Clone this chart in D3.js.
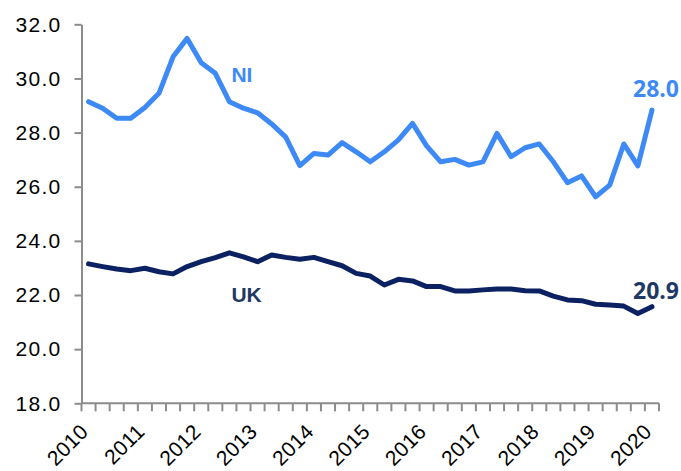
<!DOCTYPE html>
<html><head><meta charset="utf-8">
<script src="https://cdn.jsdelivr.net/npm/d3@7"></script>
<style>body{margin:0;background:#fff}svg{display:block}</style>
</head><body>
<svg id="c" width="681" height="471"></svg>
<script>
const quarters = d3.range(41).map(i => `${2010 + Math.floor(i/4)} Q${i%4+1}`);
const yearLabels = ["2010","2011","2012","2013","2014","2015","2016","2017","2018","2019","2020"];
const yTicks = [18,20,22,24,26,28,30,32];
const niValues = [29.14,28.90,28.53,28.53,28.93,29.45,30.80,31.48,30.58,30.19,
  29.14,28.90,28.73,28.32,27.83,26.78,27.23,27.17,27.63,27.29,
  26.92,27.29,27.73,28.34,27.51,26.92,27.01,26.80,26.92,27.97,
  27.11,27.44,27.58,26.92,26.15,26.40,25.63,26.06,27.58,26.77,28.83];
const ukValues = [23.15,23.05,22.96,22.90,22.99,22.86,22.78,23.05,23.23,23.38,
  23.56,23.41,23.23,23.48,23.39,23.32,23.39,23.23,23.08,22.80,
  22.70,22.37,22.58,22.52,22.31,22.31,22.15,22.15,22.19,22.22,
  22.22,22.16,22.15,21.96,21.82,21.79,21.66,21.63,21.59,21.32,21.57];
const niLabel = "NI", ukLabel = "UK";
const niEndLabel = "28.0", ukEndLabel = "20.9";

const FONT = "'Liberation Sans', Arial, sans-serif";
const svg = d3.select("#c");
const x0 = 81.5, x1 = 659, yTop = 24.3, yBot = 403.3;
const x = d3.scalePoint().domain(quarters).range([x0, x1]).padding(0.5);
const y = d3.scaleLinear().domain([18, 32]).range([yBot, yTop]);
const step = x.step();
const axisColor = "#8c8c8c";

// Y axis
const yAxis = svg.append("g").attr("transform", `translate(${x0},0)`)
  .call(d3.axisLeft(y).tickValues(yTicks).tickFormat(d3.format(".1f")).tickSize(7).tickSizeOuter(0));
yAxis.select(".domain").attr("stroke", axisColor).attr("stroke-width", 2);
yAxis.selectAll(".tick line").attr("stroke", axisColor).attr("stroke-width", 2);
yAxis.selectAll(".tick text").attr("x", -20).attr("fill", "#000")
  .attr("font-family", FONT).attr("font-size", 21).attr("letter-spacing", "1.3px");

// X axis
const xAxisG = svg.append("g");
xAxisG.append("line").attr("x1", x0).attr("x2", x1).attr("y1", yBot).attr("y2", yBot)
  .attr("stroke", axisColor).attr("stroke-width", 2);
xAxisG.selectAll("line.t").data(d3.range(42)).join("line").attr("class", "t")
  .attr("x1", k => x0 + k*step).attr("x2", k => x0 + k*step)
  .attr("y1", yBot).attr("y2", yBot + 8).attr("stroke", axisColor).attr("stroke-width", 2);
xAxisG.selectAll("text").data(yearLabels).join("text")
  .attr("transform", (d, i) => `translate(${x(quarters[i*4]) + 1},${433}) rotate(-45)`)
  .attr("text-anchor", "end")
  .attr("font-family", FONT).attr("font-size", 21).attr("letter-spacing", "0.3px")
  .attr("fill", "#000").text(d => d);

// Lines
const line = vals => d3.line().x((d, i) => x(quarters[i])).y(d => y(d))(vals);
svg.append("path").attr("d", line(ukValues)).attr("fill", "none")
  .attr("stroke", "#0b2162").attr("stroke-width", 5).attr("stroke-linejoin", "round").attr("stroke-linecap", "round");
svg.append("path").attr("d", line(niValues)).attr("fill", "none")
  .attr("stroke", "#3d8af7").attr("stroke-width", 5).attr("stroke-linejoin", "round").attr("stroke-linecap", "round");

// Labels
svg.append("text").attr("x", x(quarters[10]) + 2).attr("y", 82)
  .attr("font-family", FONT).attr("font-size", 21).attr("font-weight", "bold")
  .attr("fill", "#3d8af7").text(niLabel);
svg.append("text").attr("x", x(quarters[10]) + 2).attr("y", 302)
  .attr("font-family", FONT).attr("font-size", 21).attr("font-weight", "bold")
  .attr("fill", "#1f3864").text(ukLabel);
svg.append("text").attr("x", 679).attr("y", 97).attr("text-anchor", "end")
  .attr("font-family", "'Open Sans', sans-serif").attr("font-size", 23).attr("font-weight", "bold")
  .attr("fill", "#3d8af7").text(niEndLabel);
svg.append("text").attr("x", 679).attr("y", 299).attr("text-anchor", "end")
  .attr("font-family", "'Open Sans', sans-serif").attr("font-size", 23).attr("font-weight", "bold")
  .attr("fill", "#1f3864").text(ukEndLabel);
</script>
</body></html>
